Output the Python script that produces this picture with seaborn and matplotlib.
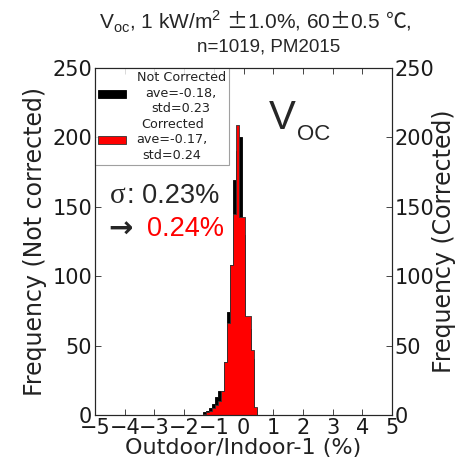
import numpy as np
import pandas as pd
import seaborn as sns
import matplotlib
matplotlib.use("Agg")
import matplotlib.pyplot as plt

# ---- data ----
bin_edges = [-1.35, -1.25, -1.15, -1.05, -0.95, -0.85, -0.75, -0.65, -0.55, -0.45,
             -0.35, -0.25, -0.15, -0.05, 0.05, 0.15, 0.25, 0.35, 0.45]
counts_not_corrected = [2, 3, 5, 8, 13, 17, 17, 38, 74, 108, 169, 190, 200, 130, 66, 62, 40, 5]
counts_corrected = [1, 2, 3, 5, 7, 10, 17, 38, 66, 108, 145, 209, 143, 143, 71, 71, 47, 6]
label_not_corrected = "Not Corrected\nave=-0.18,\nstd=0.23"
label_corrected = "Corrected\nave=-0.17,\nstd=0.24"
x_ticks = [-5, -4, -3, -2, -1, 0, 1, 2, 3, 4, 5]
y_ticks = [0, 50, 100, 150, 200, 250]

edges = np.array(bin_edges)
centers = (edges[:-1] + edges[1:]) / 2
df_nc = pd.DataFrame({"x": centers, "w": counts_not_corrected})
df_c = pd.DataFrame({"x": centers, "w": counts_corrected})

sns.set_style("ticks")
plt.rcParams["font.family"] = ["DejaVu Sans"]
plt.rcParams["mathtext.fontset"] = "custom"
plt.rcParams["mathtext.rm"] = "Liberation Sans"
plt.rcParams["mathtext.sf"] = "Noto Sans CJK JP"

fig = plt.figure(figsize=(4.62, 4.63), dpi=100)
ax = fig.add_axes([95 / 462, 48 / 463, 297 / 462, 347 / 463])

sns.histplot(data=df_nc, x="x", weights="w", bins=list(bin_edges), element="step",
             fill=True, color="black", alpha=1, edgecolor="black", linewidth=0.6, ax=ax,
             label=label_not_corrected)
sns.histplot(data=df_c, x="x", weights="w", bins=list(bin_edges), element="step",
             fill=True, color="red", alpha=1, edgecolor="#333333", linewidth=0.6, ax=ax,
             label=label_corrected)

ax.set_xlim(-5, 5)
ax.set_ylim(0, 250)
ax.set_xticks(x_ticks)
ax.set_yticks(y_ticks)
ax.set_xticklabels(["\u2212%d" % -t if t < 0 else str(t) for t in x_ticks])
ax.tick_params(direction="in", labelsize=15, top=True, length=4, width=0.6, pad=2,
               labelcolor="#1a1a1a")
ax.set_xlabel("Outdoor/Indoor-1 (%)", fontsize=16, labelpad=0, color="#222222")
ax.set_ylabel("Frequency (Not corrected)", fontsize=17, labelpad=4, color="#222222")
for s in ax.spines.values():
    s.set_linewidth(0.8)

ax2 = ax.twinx()
ax2.set_ylim(0, 250)
ax2.set_yticks(y_ticks)
ax2.tick_params(direction="in", labelsize=15, length=4, width=0.6, pad=2,
                labelcolor="#1a1a1a")
ax2.set_ylabel("Frequency (Corrected)", fontsize=17, labelpad=-2, color="#222222")

leg = ax.legend(loc="upper left", fontsize=9.2, frameon=True, fancybox=False,
                edgecolor="#888888", borderaxespad=0.0, handlelength=2.2,
                handleheight=0.6, labelspacing=0.2, borderpad=0.25, handletextpad=0.8)
leg.get_frame().set_linewidth(0.8)
for t in leg.get_texts():
    t.set_multialignment("center")
    t.set_linespacing(1.25)
    t.set_color("#222222")

sans = ["Liberation Sans", "DejaVu Sans"]
title1 = ("V$_{\\mathregular{oc}}$, 1 kW/m$^{\\mathregular{2}}$ $\\mathsf{\u00b1}$1.0%, "
          "60$\\mathsf{\u00b1}$0.5 $\\mathsf{\u2103}$,")
fig.text(255 / 462, 1 - 22 / 463, title1, ha="center", va="center", fontsize=15, family=sans)
fig.text(269 / 462, 1 - 47 / 463, "n=1019, PM2015", ha="center", va="center",
         fontsize=13.5, family=sans)

ax.text((110 - 95) / 297, 0.63, "\u03c3", transform=ax.transAxes, fontsize=21,
        family=["Liberation Serif", "DejaVu Serif"], va="center", ha="left")
ax.text((127 - 95) / 297, 0.63, ": 0.23%", transform=ax.transAxes, fontsize=19.5,
        family=sans, va="center", ha="left")
ax.text((108 - 95) / 297, 0.533, "\u2192", transform=ax.transAxes, fontsize=21,
        family=["DejaVu Sans"], weight="bold", va="center", ha="left")
ax.text(0.175, 0.535, "0.24%", transform=ax.transAxes, fontsize=19.5,
        family=sans, va="center", ha="left", color="red")
ax.text(0.585, 0.855, "V", transform=ax.transAxes, fontsize=29, family=sans,
        va="center", ha="left")
ax.text(0.68, 0.808, "OC", transform=ax.transAxes, fontsize=16, family=sans,
        va="center", ha="left")

fig.savefig("out.png", dpi=100)
